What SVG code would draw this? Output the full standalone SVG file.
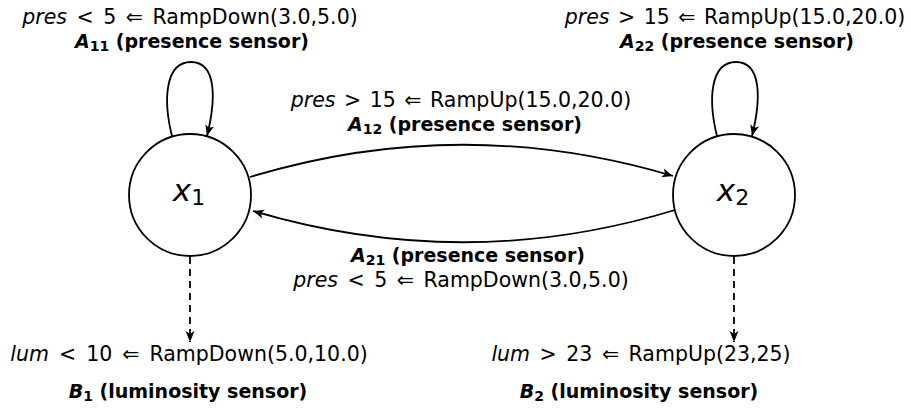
<svg xmlns="http://www.w3.org/2000/svg" width="911" height="412" viewBox="0 0 911 412">
<style>
text{font-family:"DejaVu Sans",Verdana,sans-serif;fill:#000}
.r{font-size:20.5px;text-anchor:middle}
.b{font-size:19px;font-weight:bold;text-anchor:middle}
.i{font-style:italic}
.sb{font-size:14px;font-style:normal}
.node{fill:#fff;stroke:#000;stroke-width:1.8}
.lab{font-size:31px;text-anchor:middle}
.e{fill:none;stroke:#000;stroke-width:1.8}
.d{fill:none;stroke:#000;stroke-width:1.8;stroke-dasharray:7 5}
</style>
<defs>
<marker id="ah" markerUnits="userSpaceOnUse" markerWidth="13" markerHeight="11" refX="11" refY="4.5" orient="auto" overflow="visible">
<path d="M0,0 L11,4.5 L0,9 L2.8,4.5 Z" fill="#000"/>
</marker>
</defs>
<g id="connectors">
<path class="e" d="M172,136 C163,100 165,62 191,62 C217,62 216,100 207,136" marker-end="url(#ah)"/>
<path class="e" d="M717,136 C708,100 710,62 736,62 C762,62 761,100 752,136" marker-end="url(#ah)"/>
<path class="e" d="M250,177 Q462,113 673,176" marker-end="url(#ah)"/>
<path class="e" d="M675,210 Q465,274 253,211" marker-end="url(#ah)"/>
<path class="d" d="M190,257 L190,342" marker-end="url(#ah)"/>
<path class="d" d="M734,257 L734,342" marker-end="url(#ah)"/>
</g>
<g id="x1">
<circle class="node" cx="190" cy="195" r="61"/>
<text class="lab" x="189" y="201"><tspan class="i">x</tspan><tspan font-size="22" dy="4">1</tspan></text>
</g>
<g id="x2">
<circle class="node" cx="734" cy="195" r="61"/>
<text class="lab" x="733" y="201"><tspan class="i">x</tspan><tspan font-size="22" dy="4">2</tspan></text>
</g>
<g id="labels">
<text class="r" x="190" y="24"><tspan class="i">pres</tspan><tspan dx="3"> &lt;</tspan><tspan dx="3"> 5</tspan><tspan dx="3"> ⇐</tspan><tspan dx="3"> RampDown(3.0,5.0)</tspan></text>
<text class="b" x="192" y="48"><tspan class="i">A</tspan><tspan class="sb" dy="3">11</tspan><tspan dy="-3"> (presence sensor)</tspan></text>
<text class="r" x="735" y="24"><tspan class="i">pres</tspan><tspan dx="2"> &gt;</tspan><tspan dx="2"> 15</tspan><tspan dx="2"> ⇐</tspan><tspan dx="2"> RampUp(15.0,20.0)</tspan></text>
<text class="b" x="737" y="48"><tspan class="i">A</tspan><tspan class="sb" dy="3">22</tspan><tspan dy="-3"> (presence sensor)</tspan></text>
<text class="r" x="461" y="107"><tspan class="i">pres</tspan><tspan dx="2"> &gt;</tspan><tspan dx="2"> 15</tspan><tspan dx="2"> ⇐</tspan><tspan dx="2"> RampUp(15.0,20.0)</tspan></text>
<text class="b" x="465" y="131"><tspan class="i">A</tspan><tspan class="sb" dy="3">12</tspan><tspan dy="-3"> (presence sensor)</tspan></text>
<text class="b" x="468" y="262"><tspan class="i">A</tspan><tspan class="sb" dy="3">21</tspan><tspan dy="-3"> (presence sensor)</tspan></text>
<text class="r" x="461" y="287"><tspan class="i">pres</tspan><tspan dx="3"> &lt;</tspan><tspan dx="3"> 5</tspan><tspan dx="3"> ⇐</tspan><tspan dx="3"> RampDown(3.0,5.0)</tspan></text>
<text class="r" x="189" y="361"><tspan class="i">lum</tspan><tspan dx="3.5"> &lt;</tspan><tspan dx="3.5"> 10</tspan><tspan dx="3.5"> ⇐</tspan><tspan dx="3.5"> RampDown(5.0,10.0)</tspan></text>
<text class="b" x="188" y="398"><tspan class="i">B</tspan><tspan class="sb" dy="3">1</tspan><tspan dy="-3"> (luminosity sensor)</tspan></text>
<text class="r" x="641" y="361"><tspan class="i">lum</tspan><tspan dx="3"> &gt;</tspan><tspan dx="3"> 23</tspan><tspan dx="3"> ⇐</tspan><tspan dx="3"> RampUp(23,25)</tspan></text>
<text class="b" x="639" y="398"><tspan class="i">B</tspan><tspan class="sb" dy="3">2</tspan><tspan dy="-3"> (luminosity sensor)</tspan></text>
</g>
</svg>
